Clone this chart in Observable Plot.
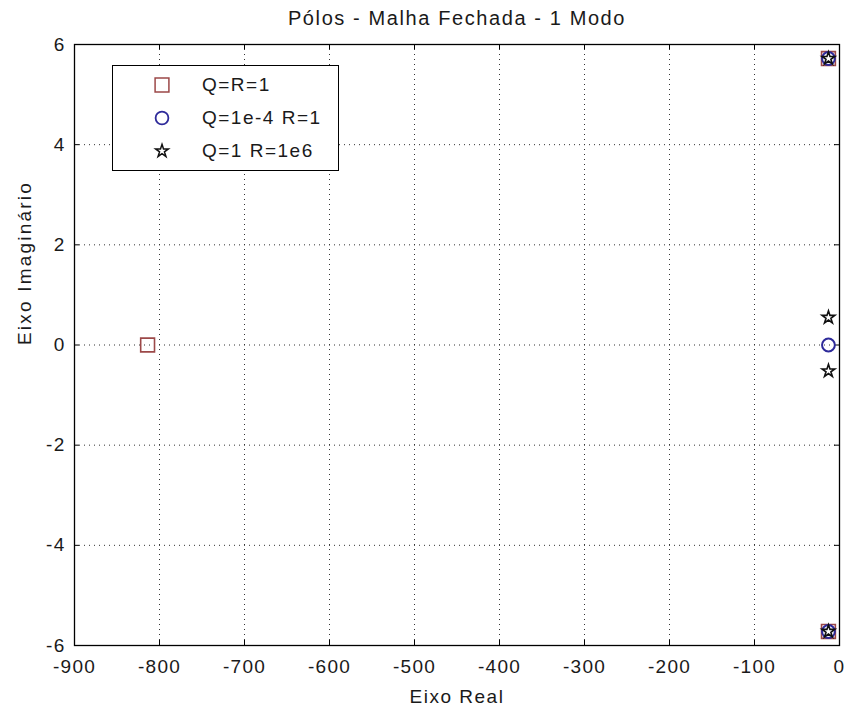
<!DOCTYPE html>
<html>
<head>
<meta charset="utf-8">
<script src="https://cdn.jsdelivr.net/npm/d3@7"></script>
<script src="https://cdn.jsdelivr.net/npm/@observablehq/plot@0.6"></script>
<style>
  html, body { margin: 0; padding: 0; background: #fff; }
  #wrap { position: relative; width: 845px; height: 708px; font-family: "Liberation Sans", Arial, sans-serif; }
  #legend { position: absolute; left: 112px; top: 65px; width: 227px; height: 106px; border: 1.3px solid #000; background: #fff; box-sizing: border-box; }
  .row { position: absolute; left: 0; height: 24px; width: 100%; }
  .row svg { position: absolute; left: 39px; top: 2px; }
  .row span { position: absolute; left: 89px; top: 0; line-height: 24px; font-size: 19px; letter-spacing: 1.5px; color: #1a1a1a; white-space: nowrap; }
</style>
</head>
<body>
<div id="wrap"></div>
<script>
// Closed-loop poles for three weightings
const seriesLabels = ["Q=R=1", "Q=1e-4 R=1", "Q=1 R=1e6"];
const seriesSymbols = [d3.symbolSquare, d3.symbolCircle, d3.symbolStar];
const seriesColors = ["#9c4848", "#2e2a9a", "#111111"];
const seriesRadius = [7.8, 6.4, 4];

const polesQR1Re = [-814, -13, -13];
const polesQR1Im = [0, 5.72, -5.72];

const polesQsmallRe = [-13, -13, -13];
const polesQsmallIm = [0, 5.72, -5.72];

const polesRbigRe = [-13, -13, -13, -13];
const polesRbigIm = [0.55, -0.52, 5.72, -5.72];

const xTicks = [-900, -800, -700, -600, -500, -400, -300, -200, -100, 0];
const yTicks = [-6, -4, -2, 0, 2, 4, 6];

const series = [
  {re: polesQR1Re, im: polesQR1Im},
  {re: polesQsmallRe, im: polesQsmallIm},
  {re: polesRbigRe, im: polesRbigIm}
];

const W = 845, H = 708;
const mL = 74, mR = 6, mT = 44, mB = 63;
const frameW = W - mL - mR, frameH = H - mT - mB;
const tickLen = 5;
const font = "Liberation Sans, Arial, sans-serif";

const innerX = xTicks.slice(1, -1);
const innerY = yTicks.slice(1, -1);

const poleMarks = series.map((s, k) =>
  Plot.dot(s.re.map((re, i) => ({re, im: s.im[i]})), {
    x: "re", y: "im",
    symbol: seriesSymbols[k],
    r: seriesRadius[k],
    stroke: seriesColors[k],
    strokeWidth: k === 1 ? 2 : 1.6,
    fill: "none"
  })
);

const chart = Plot.plot({
  width: W,
  height: H,
  marginLeft: mL,
  marginRight: mR,
  marginTop: mT,
  marginBottom: mB,
  style: {fontFamily: font, fontSize: "19px", color: "#1a1a1a", background: "#fff"},
  x: {domain: [-900, 0], label: null},
  y: {domain: [-6, 6], label: null},
  marks: [
    // dotted grid
    Plot.ruleX(innerX, {stroke: "#333", strokeDasharray: "1,4", strokeWidth: 1}),
    Plot.ruleY(innerY, {stroke: "#333", strokeDasharray: "1,4", strokeWidth: 1}),
    // inward ticks on all four sides
    Plot.tickX(xTicks, {x: d => d, insetTop: frameH - tickLen, stroke: "#000"}),
    Plot.tickX(xTicks, {x: d => d, insetBottom: frameH - tickLen, stroke: "#000"}),
    Plot.tickY(yTicks, {y: d => d, insetRight: frameW - tickLen, stroke: "#000"}),
    Plot.tickY(yTicks, {y: d => d, insetLeft: frameW - tickLen, stroke: "#000"}),
    Plot.frame({stroke: "#000", strokeWidth: 1.3}),
    Plot.axisX(xTicks, {tickSize: 0, tickPadding: 14, fontSize: 19, fill: "#1a1a1a", tickFormat: d => String(d), label: null}),
    Plot.axisY(yTicks, {tickSize: 0, tickPadding: 9, fontSize: 19, fill: "#1a1a1a", tickFormat: d => String(d), label: null}),
    // poles
    ...poleMarks,
    // titles
    Plot.text(["Pólos - Malha Fechada - 1 Modo"], {frameAnchor: "top", lineAnchor: "middle", dy: -26, fontSize: 20, fill: "#1a1a1a"}),
    Plot.text(["Eixo Real"], {frameAnchor: "bottom", lineAnchor: "middle", dy: 51, fontSize: 19, fill: "#1a1a1a"}),
    Plot.text(["Eixo Imaginário"], {frameAnchor: "left", dx: -50, rotate: -90, fontSize: 19, fill: "#1a1a1a"})
  ]
});
chart.style.display = "block";
const svgSel = d3.select(chart);
svgSel.selectAll("text").attr("font-family", font);
svgSel.selectAll('[aria-label="x-axis tick label"] text').style("letter-spacing", "1.25px");
svgSel.selectAll('[aria-label="y-axis tick label"] text').style("letter-spacing", "1.25px");
svgSel.selectAll('[aria-label="text"] text').each(function () {
  const t = this.textContent;
  const ls = t.startsWith("Pólos") ? 1.6 : t.startsWith("Eixo I") ? 2.2 : 1.5;
  d3.select(this).style("letter-spacing", ls + "px");
});

const wrap = document.getElementById("wrap");
wrap.appendChild(chart);

// legend box
const legend = document.createElement("div");
legend.id = "legend";
const rowCenters = [20, 53, 86];
seriesLabels.forEach((label, k) => {
  const row = document.createElement("div");
  row.className = "row";
  row.style.top = (rowCenters[k] - 13) + "px";
  const r = seriesRadius[k];
  const svg = d3.create("svg").attr("width", 20).attr("height", 20);
  svg.append("path")
    .attr("transform", "translate(10,10)")
    .attr("d", d3.symbol(seriesSymbols[k], r * r * Math.PI)())
    .attr("fill", "none")
    .attr("stroke", seriesColors[k])
    .attr("stroke-width", k === 1 ? 1.8 : 1.5);
  row.appendChild(svg.node());
  const span = document.createElement("span");
  span.textContent = label;
  row.appendChild(span);
  legend.appendChild(row);
});
wrap.appendChild(legend);
</script>
</body>
</html>
